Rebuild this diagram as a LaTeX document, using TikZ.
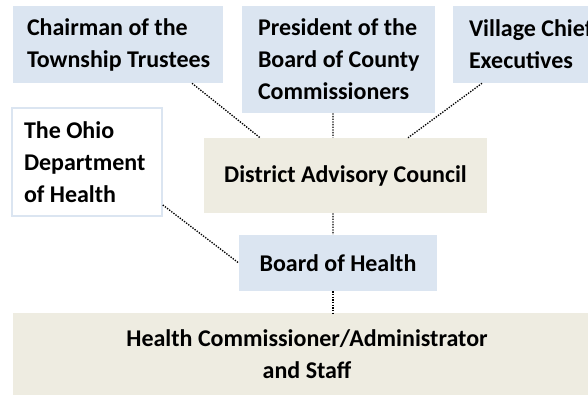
\documentclass[tikz,border=0pt]{standalone}
\usepackage{fontspec}
\setmainfont{Carlito}
\definecolor{boxblue}{HTML}{DBE5F1}
\definecolor{boxtan}{HTML}{EEECE1}

\begin{document}
\begin{tikzpicture}[x=0.75pt,y=-0.75pt,
  lbl/.style={font=\fontsize{18}{24}\selectfont\bfseries,inner ysep=0pt},
  bluebox/.style={lbl,fill=boxblue},
  tanbox/.style={lbl,fill=boxtan,align=center},
  link/.style={line width=1pt,dash pattern=on 1pt off 1pt}]
\clip (0,0) rectangle (588,394);
% upper row
\node[bluebox,align=flush left,inner xsep=10.5pt,text width=136.5pt,minimum height=57.75pt] (chair) at (118,44.5) {\mbox{Chairman of the}\\\mbox{Township Trustees}};
\node[bluebox,align=flush left,inner xsep=12pt,text width=120.75pt,minimum height=80.25pt] (pres) at (338.5,59.5) {\mbox{President of the}\\\mbox{Board of County}\\Commissioners};
\node[bluebox,align=flush left,inner xsep=12pt,text width=111pt,minimum height=57.75pt] (vill) at (543,44.5) {\mbox{Village Chief}\\Executives};
% middle
\node[lbl,draw=boxblue,line width=1.2pt,align=flush left,inner xsep=9pt,text width=94.5pt,minimum height=81pt] (odh) at (87,162) {\mbox{The Ohio}\\Department\\\mbox{of Health}};
\node[tanbox,minimum width=212.25pt,minimum height=56.25pt] (dac) at (345.5,175.5) {District Advisory Council};
\node[bluebox,minimum width=148.5pt,minimum height=42pt] (boh) at (338,263) {Board of Health};
% bottom
\node[tanbox,minimum width=441pt,minimum height=62pt] (hc) at (307,354.5) {Health Commissioner/Administrator\\and Staff};
% links
\draw[link] ([xshift=55.5pt]chair.south) -- ([xshift=-64.1pt]dac.north);
\draw[link] ([xshift=-4.1pt]pres.south) -- ([xshift=-9.4pt]dac.north);
\draw[link] ([xshift=-45.75pt]vill.south) -- ([xshift=46.9pt]dac.north);
\draw[link] ([yshift=-32.25pt]odh.east) -- (boh.west);
\draw[link] ([xshift=-9.4pt]dac.south) -- ([xshift=-3.75pt]boh.north);
\draw[link] ([xshift=-3.75pt]boh.south) -- ([xshift=19.5pt]hc.north);
\end{tikzpicture}
\end{document}
